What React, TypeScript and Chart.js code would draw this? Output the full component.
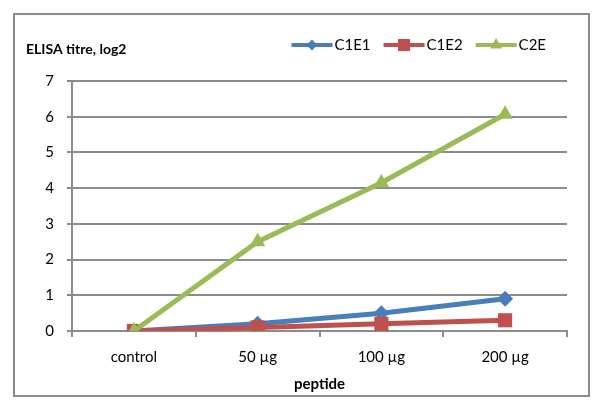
import React, { useEffect, useRef } from "react";
import { Chart, registerables } from "chart.js";

Chart.register(...registerables);

const categories = ["control", "50 µg", "100 µg", "200 µg"];
const seriesNames = ["C1E1", "C1E2", "C2E"];
const c1e1Values = [0, 0.2, 0.5, 0.9];
const c1e2Values = [0, 0.1, 0.2, 0.3];
const c2eValues = [0, 2.5, 4.15, 6.07];
const yTicks = [0, 1, 2, 3, 4, 5, 6, 7];

const BLUE = "#4a7ebb";
const RED = "#c0504d";
const GREEN = "#9bbb59";
const GRID = "#8c8c8c";
const FONT = "Lato, 'Open Sans', sans-serif";

function drawMarker(ctx: CanvasRenderingContext2D, style: string, x: number, y: number, r: number) {
  ctx.beginPath();
  if (style === "rectRot") {
    ctx.moveTo(x, y - r);
    ctx.lineTo(x + r, y);
    ctx.lineTo(x, y + r);
    ctx.lineTo(x - r, y);
  } else if (style === "rect") {
    const s = r * Math.SQRT1_2;
    ctx.rect(x - s, y - s, 2 * s, 2 * s);
  } else {
    const h = r * 1.5;
    const w = r * Math.sin(Math.PI / 3);
    ctx.moveTo(x, y - r);
    ctx.lineTo(x + w, y + h - r);
    ctx.lineTo(x - w, y + h - r);
  }
  ctx.closePath();
  ctx.fill();
}

const titlePlugin = {
  id: "sideTitleAndLegend",
  afterDraw(chart: any) {
    const ctx = chart.ctx;
    ctx.save();
    ctx.fillStyle = "#000";
    ctx.font = `bold 14px ${FONT}`;
    ctx.textBaseline = "middle";
    ctx.textAlign = "left";
    ctx.fillText("ELISA titre, log2", 18, 41);

    ctx.font = `15px ${FONT}`;
    const lineLen = 41;
    const gap = 2;
    const itemGap = 13;
    const sets = chart.data.datasets;
    const widths = sets.map((d: any) => lineLen + gap + ctx.measureText(d.label).width);
    const total = widths.reduce((a: number, b: number) => a + b, 0) + itemGap * (sets.length - 1);
    let x = 538 - total;
    const y = 37;
    sets.forEach((d: any, i: number) => {
      ctx.strokeStyle = d.borderColor;
      ctx.lineWidth = 4;
      ctx.beginPath();
      ctx.moveTo(x, y);
      ctx.lineTo(x + lineLen, y);
      ctx.stroke();
      ctx.fillStyle = d.borderColor;
      const r = d.pointStyle === "rectRot" ? 5.5 : d.pointStyle === "rect" ? 8.5 : 7;
      drawMarker(ctx, d.pointStyle, x + lineLen / 2, y, r);
      ctx.fillStyle = "#000";
      ctx.fillText(d.label, x + lineLen + gap, y);
      x += widths[i] + itemGap;
    });
    ctx.restore();
  },
};

export default function App() {
  const canvasRef = useRef<HTMLCanvasElement | null>(null);

  useEffect(() => {
    if (!canvasRef.current) return;
    const chart = new Chart(canvasRef.current, {
      type: "line",
      data: {
        labels: categories,
        datasets: [
          {
            label: seriesNames[0],
            data: c1e1Values,
            borderColor: BLUE,
            backgroundColor: BLUE,
            borderWidth: 5,
            pointStyle: "rectRot",
            pointRadius: 8,
            pointBorderWidth: 0,
            order: 2,
          },
          {
            label: seriesNames[1],
            data: c1e2Values,
            borderColor: RED,
            backgroundColor: RED,
            borderWidth: 5,
            pointStyle: "rect",
            pointRadius: 10,
            pointBorderWidth: 0,
            order: 1,
          },
          {
            label: seriesNames[2],
            data: c2eValues,
            borderColor: GREEN,
            backgroundColor: GREEN,
            borderWidth: 5,
            pointStyle: "triangle",
            pointRadius: 9,
            pointBorderWidth: 0,
            order: 0,
          },
        ],
      },
      options: {
        animation: false,
        responsive: true,
        maintainAspectRatio: false,
        layout: { padding: { top: 73, right: 25, bottom: 0, left: 0 } },
        plugins: {
          legend: { display: false },
          title: { display: false },
          tooltip: { enabled: false },
        },
        scales: {
          x: {
            type: "category",
            offset: true,
            afterFit(scale: any) {
              scale.height = 74;
            },
            grid: {
              offset: true,
              drawOnChartArea: false,
              drawTicks: true,
              tickLength: 6,
              color: GRID,
              lineWidth: 2,
            },
            border: { display: true, color: GRID, width: 2 },
            ticks: {
              color: "#000",
              font: { family: FONT, size: 15 },
              padding: 11,
            },
            title: {
              display: true,
              text: "peptide",
              color: "#000",
              font: { family: FONT, size: 15, weight: "bold" },
              padding: { top: 0, bottom: 12 },
            },
          },
          y: {
            min: 0,
            max: 7,
            afterFit(scale: any) {
              scale.width = 64;
            },
            afterBuildTicks(scale: any) {
              scale.ticks = yTicks.map((v) => ({ value: v }));
            },
            grid: {
              color: GRID,
              lineWidth: 2,
              tickLength: 5,
            },
            border: { display: true, color: GRID, width: 2 },
            ticks: {
              color: "#000",
              font: { family: FONT, size: 15 },
              padding: 13,
            },
          },
        },
      },
      plugins: [titlePlugin],
    });
    return () => chart.destroy();
  }, []);

  return (
    <div style={{ position: "relative", width: 584, height: 397 }}>
      <canvas ref={canvasRef} />
      <div
        style={{
          position: "absolute",
          left: 5,
          top: 5,
          width: 577,
          height: 384,
          boxSizing: "border-box",
          border: `2px solid ${GRID}`,
          pointerEvents: "none",
        }}
      />
    </div>
  );
}
